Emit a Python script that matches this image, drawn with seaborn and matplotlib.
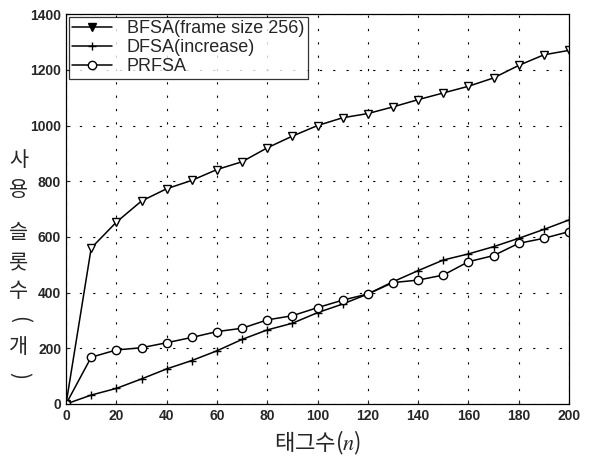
import pandas as pd
import matplotlib.pyplot as plt
import seaborn as sns

# tag counts and used slot counts
tags = [0, 10, 20, 30, 40, 50, 60, 70, 80, 90, 100,
        110, 120, 130, 140, 150, 160, 170, 180, 190, 200]
bfsa = [0, 560, 653, 729, 773, 803, 842, 870, 920, 962, 1000,
        1028, 1043, 1067, 1093, 1117, 1141, 1171, 1216, 1254, 1270]
dfsa = [0, 32, 56, 90, 126, 156, 191, 232, 266, 290, 328,
        359, 395, 439, 479, 517, 539, 565, 595, 627, 661]
prfsa = [0, 168, 194, 202, 220, 239, 260, 272, 302, 317, 346,
         373, 395, 436, 445, 463, 511, 533, 577, 595, 619]
labels = ['BFSA(frame size 256)', 'DFSA(increase)', 'PRFSA']

df = pd.DataFrame({'n': tags * 3,
                   'slots': bfsa + dfsa + prfsa,
                   'method': [labels[0]] * len(tags) + [labels[1]] * len(tags) + [labels[2]] * len(tags)})

sns.set_style('ticks')
plt.rcParams['font.family'] = ['Liberation Sans', 'Noto Sans CJK KR', 'DejaVu Sans']
plt.rcParams['mathtext.fontset'] = 'stix'
kr = ['Noto Sans CJK KR', 'DejaVu Sans']

fig = plt.figure(figsize=(6.06, 4.57), dpi=100)
ax = fig.add_axes([0.109, 0.116, 0.830, 0.853])

markers = {labels[0]: 'v', labels[1]: '+', labels[2]: 'o'}
for lab in labels:
    sub = df[df['method'] == lab]
    sns.lineplot(data=sub, x='n', y='slots', ax=ax, color='black', lw=1.1,
                 marker=markers[lab], markersize=6, markerfacecolor='white',
                 markeredgecolor='black', markeredgewidth=1.0, label=lab)

ax.set_xlim(0, 200)
ax.set_ylim(0, 1400)
ax.set_xticks(range(0, 201, 20))
ax.set_yticks(range(0, 1401, 200))
ax.grid(True, color='black', linestyle=(0, (2, 10)), linewidth=0.8)
ax.tick_params(direction='in', length=3, labelsize=10, width=0.8)
for t in ax.get_xticklabels() + ax.get_yticklabels():
    t.set_fontweight('bold')
for s in ax.spines.values():
    s.set_visible(True)
    s.set_linewidth(0.9)
    s.set_color('black')

ax.set_xlabel('태그수($\\mathit{n}$)', fontsize=16, family=kr, labelpad=4)
ax.set_ylabel('')

# vertical y label, one glyph per row; parentheses turned sideways
ylab = [('사', 0), ('용', 0), ('슬', 0), ('롯', 0), ('수', 0), ('(', -90), ('개', 0), (')', -90)]
rows = [160, 190, 233, 262, 291, 320, 347, 376]
for (ch, rot), py in zip(ylab, rows):
    fig.text(19 / 606, 1 - py / 457, ch, fontsize=15, ha='center', va='center',
             rotation=rot, family=kr)

leg = ax.legend(loc='upper left', frameon=True, fontsize=13, fancybox=False,
                borderaxespad=0.15, handlelength=2.2, borderpad=0.2, labelspacing=0.1)
leg.get_frame().set_edgecolor('black')
leg.get_frame().set_linewidth(0.9)
# only the triangle is shown filled in the legend
leg.legend_handles[0].set_markerfacecolor('black')

plt.savefig('out.png', dpi=100)
plt.close()
